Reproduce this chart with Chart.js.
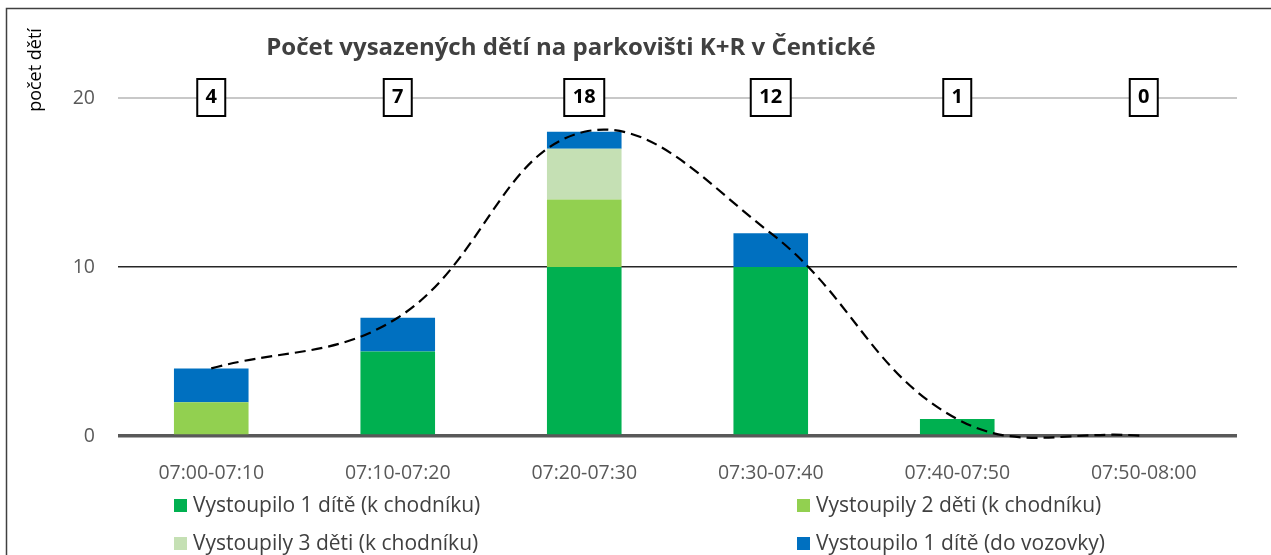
<!DOCTYPE html>
<html lang="cs">
  <head>
    <meta charset="UTF-8" />
    <title>Počet vysazených dětí</title>
    <script src="https://cdn.jsdelivr.net/npm/chart.js"></script>
    <style>
      html, body { margin: 0; padding: 0; background: #fff; }
      #wrap { width: 1271px; height: 555px; }
    </style>
  </head>
  <body>
    <div id="wrap">
      <canvas id="myChart" width="1271" height="555"></canvas>
    </div>

    <script>
      // data
      const casy = ["07:00-07:10", "07:10-07:20", "07:20-07:30", "07:30-07:40", "07:40-07:50", "07:50-08:00"];
      const jedno = [0, 5, 10, 10, 1, 0]; // 1 dítě k chodníku
      const dve = [2, 0, 4, 0, 0, 0]; // 2 děti k chodníku
      const tri = [0, 0, 3, 0, 0, 0]; // 3 děti k chodníku
      const vozovka = [2, 2, 1, 2, 0, 0]; // 1 dítě do vozovky
      const yTicks = [0, 10, 20];

      const soucty = casy.map((c, i) => jedno[i] + dve[i] + tri[i] + vozovka[i]);

      const FONT = "'Open Sans', Lato, sans-serif";
      const SEDA = "#595959";

      const myPlugin = {
        id: "extras",
        afterDatasetsDraw(chart) {
          const ctx = chart.ctx;
          const x = chart.scales.x, y = chart.scales.y;
          // boxy se součty
          ctx.save();
          ctx.font = "bold 20px " + FONT;
          ctx.textAlign = "center";
          ctx.textBaseline = "middle";
          const yy = y.getPixelForValue(20) - 0.5;
          soucty.forEach((s, i) => {
            const cx = x.getPixelForValue(i);
            const w = Math.round(ctx.measureText(String(s)).width + 17);
            const h = 37;
            ctx.fillStyle = "#fff";
            ctx.fillRect(cx - w / 2, yy - h / 2, w, h);
            ctx.lineWidth = 2;
            ctx.strokeStyle = "#000";
            ctx.strokeRect(cx - w / 2, yy - h / 2, w, h);
            ctx.fillStyle = "#000";
            ctx.fillText(String(s), cx, yy);
          });
          ctx.restore();
        },
        afterDraw(chart) {
          const ctx = chart.ctx;
          ctx.save();
          // nadpis
          ctx.font = "bold 24px " + FONT;
          ctx.fillStyle = "#404040";
          ctx.textAlign = "center";
          ctx.textBaseline = "middle";
          ctx.fillText("Počet vysazených dětí na parkovišti K+R v Čentické", 571, 48);
          // popis osy y
          ctx.save();
          ctx.translate(36, 70);
          ctx.rotate(-Math.PI / 2);
          ctx.font = "18px " + FONT;
          ctx.fillStyle = "#000";
          ctx.fillText("počet dětí", 0, 0);
          ctx.restore();
          // legenda ve dvou sloupcích
          const ds = chart.data.datasets.filter(d => d.type !== "line");
          const pos = [[174, 505], [797, 505], [174, 543], [797, 543]];
          ctx.font = "21px " + FONT;
          ctx.textAlign = "left";
          ds.forEach((d, i) => {
            const [px, py] = pos[i];
            ctx.fillStyle = d.backgroundColor;
            ctx.fillRect(px, py - 6, 13, 13);
            ctx.fillStyle = "#404040";
            ctx.fillText(d.label, px + 19, py + 1);
          });
          // rámeček grafu
          ctx.strokeStyle = "#404040";
          ctx.lineWidth = 1.5;
          ctx.strokeRect(6.5, 8.5, 1300, 600);
          ctx.restore();
        },
      };

      const data = {
        labels: casy,
        datasets: [
          {
            type: "line",
            label: "součet",
            data: soucty,
            stack: "line",
            borderColor: "#000",
            borderWidth: 2.2,
            borderDash: [11, 6],
            pointRadius: 0,
            tension: 0.4,
            capBezierPoints: false,
            fill: false,
            clip: false,
            order: 0,
          },
          { label: "Vystoupilo 1 dítě (k chodníku)", data: jedno, backgroundColor: "#00B050", stack: "a", order: 1 },
          { label: "Vystoupily 2 děti (k chodníku)", data: dve, backgroundColor: "#92D050", stack: "a", order: 1 },
          { label: "Vystoupily 3 děti (k chodníku)", data: tri, backgroundColor: "#C5E0B4", stack: "a", order: 1 },
          { label: "Vystoupilo 1 dítě (do vozovky)", data: vozovka, backgroundColor: "#0070C0", stack: "a", order: 1 },
        ],
      };

      const config = {
        type: "bar",
        data: data,
        plugins: [myPlugin],
        options: {
          responsive: false,
          animation: false,
          barPercentage: 0.4,
          categoryPercentage: 1,
          layout: { padding: { top: 98, right: 34, bottom: 0, left: 0 } },
          plugins: {
            legend: { display: false },
            title: { display: false },
            tooltip: { enabled: false },
          },
          scales: {
            x: {
              stacked: true,
              grid: { display: false },
              border: { display: false },
              ticks: { color: SEDA, font: { family: FONT, size: 19.5 }, padding: 18, maxRotation: 0 },
              afterFit: (s) => { s.height = 119; },
            },
            y: {
              stacked: true,
              min: 0,
              max: 20,
              afterBuildTicks: (s) => { s.ticks = yTicks.map(v => ({ value: v })); },
              border: { display: false },
              grid: {
                drawTicks: false,
                color: (c) => c.tick.value === 0 ? SEDA : c.tick.value === 10 ? "#262626" : "#c8c8c8",
                lineWidth: (c) => c.tick.value === 0 ? 3.5 : c.tick.value === 10 ? 1.5 : 2,
              },
              ticks: { color: SEDA, font: { family: FONT, size: 19.5 }, padding: 23 },
              afterFit: (s) => { s.width = 118; },
            },
          },
        },
      };

      const myChart = new Chart(document.getElementById("myChart"), config);
    </script>
  </body>
</html>
